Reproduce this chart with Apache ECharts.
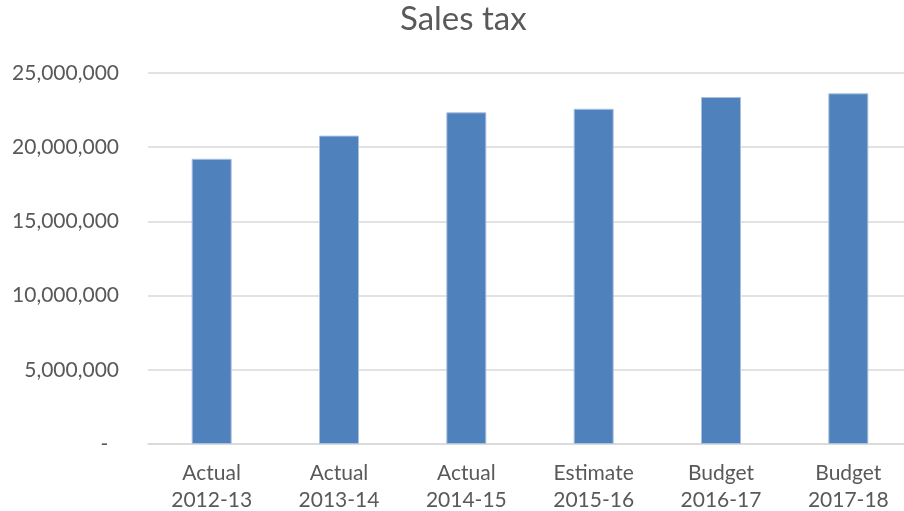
<!DOCTYPE html>
<html>
<head>
<meta charset="utf-8">
<script src="https://cdn.jsdelivr.net/npm/echarts@6/dist/echarts.min.js"></script>
<style>
  html, body { margin: 0; padding: 0; background: #fff; }
  #chart { width: 904px; height: 511px; }
</style>
</head>
<body>
<div id="chart"></div>
<script>
const categories = [
  "Actual\n2012-13",
  "Actual\n2013-14",
  "Actual\n2014-15",
  "Estimate\n2015-16",
  "Budget\n2016-17",
  "Budget\n2017-18",
];
const salesTax = [19220000, 20780000, 22350000, 22590000, 23380000, 23630000];

const chart = echarts.init(document.getElementById("chart"));
chart.setOption({
  animation: false,
  textStyle: { fontFamily: "Lato" },
  title: {
    text: "Sales tax",
    left: 400,
    top: 3,
    padding: 0,
    textStyle: {
      fontFamily: "Lato",
      fontSize: 33,
      fontWeight: "normal",
      color: "#595959",
    },
  },
  grid: {
    left: 148,
    top: 73,
    right: -8,
    bottom: 67,
    outerBoundsMode: "none",
    containLabel: false,
  },
  xAxis: {
    type: "category",
    data: categories,
    axisLine: { lineStyle: { color: "#d9d9d9", width: 1.5 } },
    axisTick: { show: false },
    axisLabel: {
      color: "#595959",
      fontSize: 21,
      lineHeight: 27,
      margin: 16,
      interval: 0,
    },
  },
  yAxis: {
    type: "value",
    min: 0,
    max: 25000000,
    interval: 5000000,
    axisLine: { show: false },
    axisTick: { show: false },
    splitLine: { lineStyle: { color: "#d9d9d9", width: 1.5 } },
    axisLabel: {
      color: "#595959",
      fontSize: 21,
      margin: 29,
      formatter: (v) => (v === 0 ? "-  " : v.toLocaleString("en-US")),
    },
  },
  series: [
    {
      name: "Sales tax",
      type: "bar",
      data: salesTax,
      barWidth: 40,
      itemStyle: {
        color: "#4f81bd",
        borderColor: "#a9c1e0",
        borderWidth: 1,
      },
    },
  ],
});
</script>
</body>
</html>
